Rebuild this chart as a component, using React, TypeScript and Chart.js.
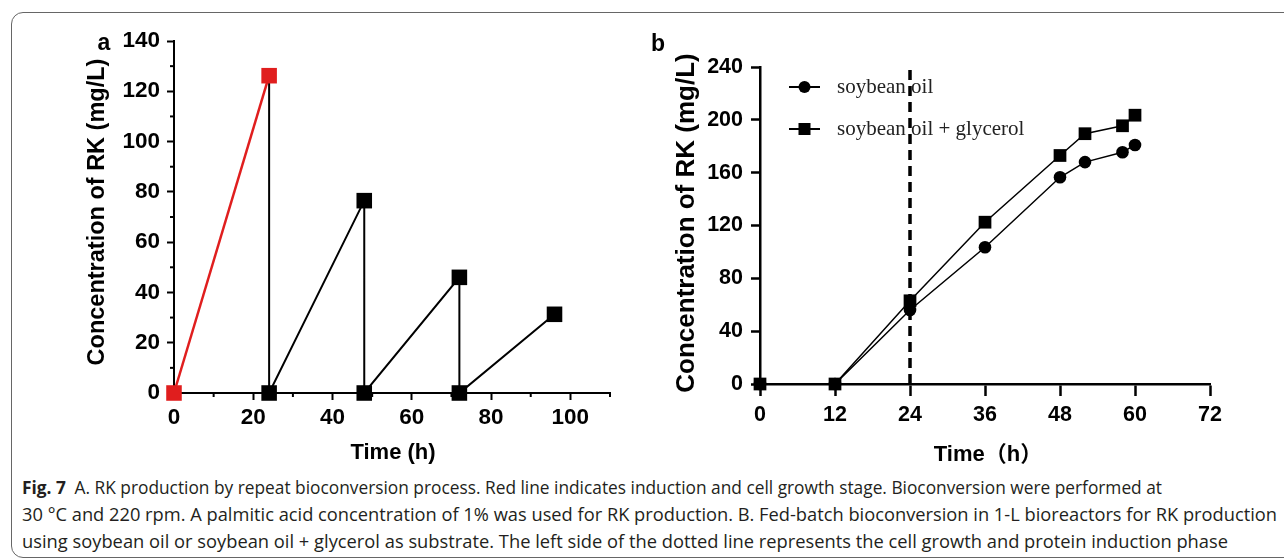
import React, { useEffect, useRef } from 'react';
import { Chart, registerables } from 'chart.js';

Chart.register(...registerables);

// ---------- Panel a data ----------
const redTime = [0, 24];
const redConc = [0, 126.2];
const cycleTime = [24, 24, 48, 48, 72, 72, 96];
const cycleConc = [126.2, 0, 76.5, 0, 46, 0, 31.3];
const minorXA = [10, 30, 50, 70, 90, 110];
const minorYA = [10, 30, 50, 70, 90, 110, 130];

// ---------- Panel b data ----------
const timeB = [0, 12, 24, 36, 48, 52, 58, 60];
const soyOil = [0, 0, 56, 103.5, 156.5, 168, 175.5, 181];
const soyOilGly = [0, 0, 63, 122.5, 173, 189.5, 195.5, 203.5];
const dashTime = [24, 24];
const dashConc = [0, 240];
const legendLabels = ['soybean oil', 'soybean oil + glycerol'];

const captionLines = [
  ['Fig. 7', '\u2002A. RK production by repeat bioconversion process. Red line indicates induction and cell growth stage. Bioconversion were performed at'],
  ['', '30 \u00B0C and 220 rpm. A palmitic acid concentration of 1% was used for RK production. B. Fed-batch bioconversion in 1-L bioreactors for RK production'],
  ['', 'using soybean oil or soybean oil + glycerol as substrate. The left side of the dotted line represents the cell growth and protein induction phase'],
];
const captionWidths = [1140, 1255, 1206];

const SANS = '"Liberation Sans", Arial, sans-serif';

const textPlugin = {
  id: 'texts',
  afterDraw(chart: any, _a: any, opts: any) {
    if (!opts || !opts.items) return;
    const { ctx } = chart;
    for (const it of opts.items) {
      ctx.save();
      ctx.font = it.font;
      ctx.fillStyle = it.color || '#000';
      ctx.textAlign = 'center';
      ctx.textBaseline = 'middle';
      ctx.translate(it.x, it.y);
      if (it.rotate) ctx.rotate(it.rotate);
      ctx.fillText(it.text, 0, 0);
      ctx.restore();
    }
  },
};

const minorTickPlugin = {
  id: 'minorTicks',
  afterDraw(chart: any, _a: any, opts: any) {
    if (!opts || !opts.x) return;
    const { ctx, chartArea } = chart;
    const xs = chart.scales.x;
    const ys = chart.scales.y;
    ctx.save();
    ctx.strokeStyle = '#000';
    ctx.lineWidth = opts.width;
    for (const v of opts.x) {
      const px = xs.getPixelForValue(v);
      ctx.beginPath();
      ctx.moveTo(px, chartArea.bottom);
      ctx.lineTo(px, chartArea.bottom + opts.length);
      ctx.stroke();
    }
    for (const v of opts.y) {
      const py = ys.getPixelForValue(v);
      ctx.beginPath();
      ctx.moveTo(chartArea.left, py);
      ctx.lineTo(chartArea.left - opts.length, py);
      ctx.stroke();
    }
    ctx.restore();
  },
};

const legendPlugin = {
  id: 'innerLegend',
  afterDraw(chart: any, _a: any, opts: any) {
    if (!opts || !opts.items) return;
    const { ctx } = chart;
    opts.items.forEach((it: any, i: number) => {
      const ds = chart.data.datasets[it.dataset];
      const y = opts.y0 + i * opts.dy;
      ctx.save();
      ctx.strokeStyle = '#000';
      ctx.lineWidth = 2;
      ctx.beginPath();
      ctx.moveTo(opts.x0, y);
      ctx.lineTo(opts.x1, y);
      ctx.stroke();
      ctx.fillStyle = '#000';
      const cx = (opts.x0 + opts.x1) / 2;
      if (ds.pointStyle === 'rect') {
        const s = 6;
        ctx.fillRect(cx - s, y - s, 2 * s, 2 * s);
      } else {
        ctx.beginPath();
        ctx.arc(cx, y, 6, 0, Math.PI * 2);
        ctx.fill();
      }
      ctx.font = opts.font;
      ctx.fillStyle = '#222';
      ctx.textAlign = 'left';
      ctx.textBaseline = 'middle';
      ctx.fillText(it.text, opts.textX, y);
      ctx.restore();
    });
  },
};

function axisY(opts: any) {
  return {
    type: 'linear',
    min: opts.min,
    max: opts.max,
    afterFit: (s: any) => {
      s.width = opts.width;
    },
    ticks: {
      stepSize: opts.step,
      autoSkip: false,
      includeBounds: false,
      color: '#000',
      padding: opts.padding,
      font: { family: SANS, size: opts.fontSize, weight: 'bold' },
    },
    grid: {
      display: true,
      drawOnChartArea: false,
      drawTicks: true,
      tickLength: opts.tickLength,
      tickWidth: opts.lineWidth,
      tickColor: '#000',
    },
    border: { display: true, color: '#000', width: opts.lineWidth },
  };
}

function axisX(opts: any) {
  return {
    type: 'linear',
    min: opts.min,
    max: opts.max,
    afterFit: (s: any) => {
      s.height = opts.height;
    },
    ticks: {
      stepSize: opts.step,
      autoSkip: false,
      includeBounds: false,
      maxRotation: 0,
      color: '#000',
      padding: opts.padding,
      font: { family: SANS, size: opts.fontSize, weight: 'bold' },
    },
    grid: {
      display: true,
      drawOnChartArea: false,
      drawTicks: true,
      tickLength: opts.tickLength,
      tickWidth: opts.lineWidth,
      tickColor: '#000',
    },
    border: { display: true, color: '#000', width: opts.lineWidth },
  };
}

const zip = (xs: number[], ys: number[]) => xs.map((x, i) => ({ x, y: ys[i] }));

export default function App() {
  const refA = useRef<HTMLCanvasElement>(null);
  const refB = useRef<HTMLCanvasElement>(null);
  const lineRefs = useRef<(HTMLDivElement | null)[]>([]);

  useEffect(() => {
    lineRefs.current.forEach((el, i) => {
      if (!el) return;
      el.style.transform = 'none';
      const w = el.getBoundingClientRect().width;
      if (w > 0) el.style.transform = `scaleX(${captionWidths[i] / w})`;
    });

    const chartA = new Chart(refA.current as HTMLCanvasElement, {
      type: 'line',
      data: {
        datasets: [
          {
            data: zip(redTime, redConc),
            borderColor: '#e01e1e',
            backgroundColor: '#e01e1e',
            borderWidth: 2.5,
            pointStyle: 'rect',
            pointRadius: 11,
            pointBorderWidth: 0,
            clip: false,
          } as any,
          {
            data: zip(cycleTime, cycleConc),
            borderColor: '#000',
            backgroundColor: '#000',
            borderWidth: 2,
            pointStyle: 'rect',
            pointRadius: cycleTime.map((_, i) => (i === 0 ? 0 : 11)),
            pointBorderWidth: 0,
            clip: false,
          } as any,
        ],
      },
      options: {
        responsive: false,
        animation: false,
        events: [],
        layout: { padding: { left: 0, top: 41, right: 30, bottom: 0 } },
        scales: {
          x: axisX({ min: 0, max: 110, step: 20, height: 77, padding: 4, fontSize: 22.5, tickLength: 7, lineWidth: 2 }),
          y: axisY({ min: 0, max: 140, step: 20, width: 174, padding: 7, fontSize: 22.5, tickLength: 7, lineWidth: 2 }),
        } as any,
        plugins: {
          legend: { display: false },
          tooltip: { enabled: false },
          minorTicks: { x: minorXA, y: minorYA, length: 4, width: 2 },
          texts: {
            items: [
              { text: 'a', x: 104, y: 44, font: `bold 23px ${SANS}` },
              { text: 'Concentration of RK (mg/L)', x: 98, y: 212, rotate: -Math.PI / 2, font: `bold 23.5px ${SANS}` },
              { text: 'Time (h)', x: 393, y: 453, font: `bold 22px ${SANS}` },
            ],
          },
        } as any,
      },
      plugins: [minorTickPlugin, textPlugin],
    } as any);

    const chartB = new Chart(refB.current as HTMLCanvasElement, {
      type: 'line',
      data: {
        datasets: [
          {
            data: zip(timeB, soyOil),
            borderColor: '#000',
            backgroundColor: '#000',
            borderWidth: 1.5,
            pointStyle: 'circle',
            pointRadius: 6.3,
            pointBorderWidth: 0,
            clip: false,
          } as any,
          {
            data: zip(timeB, soyOilGly),
            borderColor: '#000',
            backgroundColor: '#000',
            borderWidth: 1.5,
            pointStyle: 'rect',
            pointRadius: 9,
            pointBorderWidth: 0,
            clip: false,
          } as any,
          {
            data: zip(dashTime, dashConc),
            borderColor: '#000',
            borderWidth: 3.5,
            borderDash: [10, 6],
            pointRadius: 0,
            clip: false,
          } as any,
        ],
      },
      options: {
        responsive: false,
        animation: false,
        events: [],
        layout: { padding: { left: 0, top: 67, right: 74, bottom: 0 } },
        scales: {
          x: axisX({ min: 0, max: 72, step: 12, height: 86, padding: 6, fontSize: 21.5, tickLength: 12, lineWidth: 2.5 }),
          y: axisY({ min: 0, max: 240, step: 40, width: 120, padding: 8, fontSize: 21.5, tickLength: 9, lineWidth: 2.5 }),
        } as any,
        plugins: {
          legend: { display: false },
          tooltip: { enabled: false },
          innerLegend: {
            x0: 149,
            x1: 180,
            y0: 87,
            dy: 42,
            textX: 197,
            font: `21px "Liberation Serif", "Times New Roman", serif`,
            items: [
              { dataset: 0, text: legendLabels[0] },
              { dataset: 1, text: legendLabels[1] },
            ],
          },
          texts: {
            items: [
              { text: 'b', x: 18, y: 45, font: `bold 23px ${SANS}` },
              { text: 'Concentration of RK (mg/L)', x: 47, y: 223, rotate: -Math.PI / 2, font: `bold 26px ${SANS}` },
              { text: 'Time\uFF08h\uFF09', x: 348, y: 455, font: `bold 22px ${SANS}, "Noto Sans CJK SC"` },
            ],
          },
        } as any,
      },
      plugins: [legendPlugin, textPlugin],
    } as any);

    return () => {
      chartA.destroy();
      chartB.destroy();
    };
  }, []);

  return (
    <div
      style={{
        position: 'fixed',
        left: 0,
        top: 0,
        width: 1284,
        height: 559,
        overflow: 'hidden',
        background: '#fff',
      }}
    >
      <div
        style={{
          position: 'absolute',
          left: 11,
          top: 12,
          width: 1330,
          height: 546,
          border: '1.5px solid #666',
          borderRadius: 12,
          boxSizing: 'border-box',
        }}
      />
      <canvas ref={refA} width={640} height={470} style={{ position: 'absolute', left: 0, top: 0, width: 640, height: 470 }} />
      <canvas ref={refB} width={644} height={470} style={{ position: 'absolute', left: 640, top: 0, width: 644, height: 470 }} />
      <div
        style={{
          position: 'absolute',
          left: 22,
          top: 474,
          fontFamily: '"Open Sans", "Noto Sans", sans-serif',
          fontSize: 17.5,
          lineHeight: '27px',
          color: '#231f20',
          whiteSpace: 'nowrap',
        }}
      >
        {captionLines.map((ln, i) => (
          <div
            key={i}
            ref={(el) => {
              lineRefs.current[i] = el;
            }}
            style={{ display: 'table', transformOrigin: '0 50%' }}
          >
            {ln[0] ? <b>{ln[0]}</b> : null}
            <span>{ln[1]}</span>
          </div>
        ))}
      </div>
    </div>
  );
}
